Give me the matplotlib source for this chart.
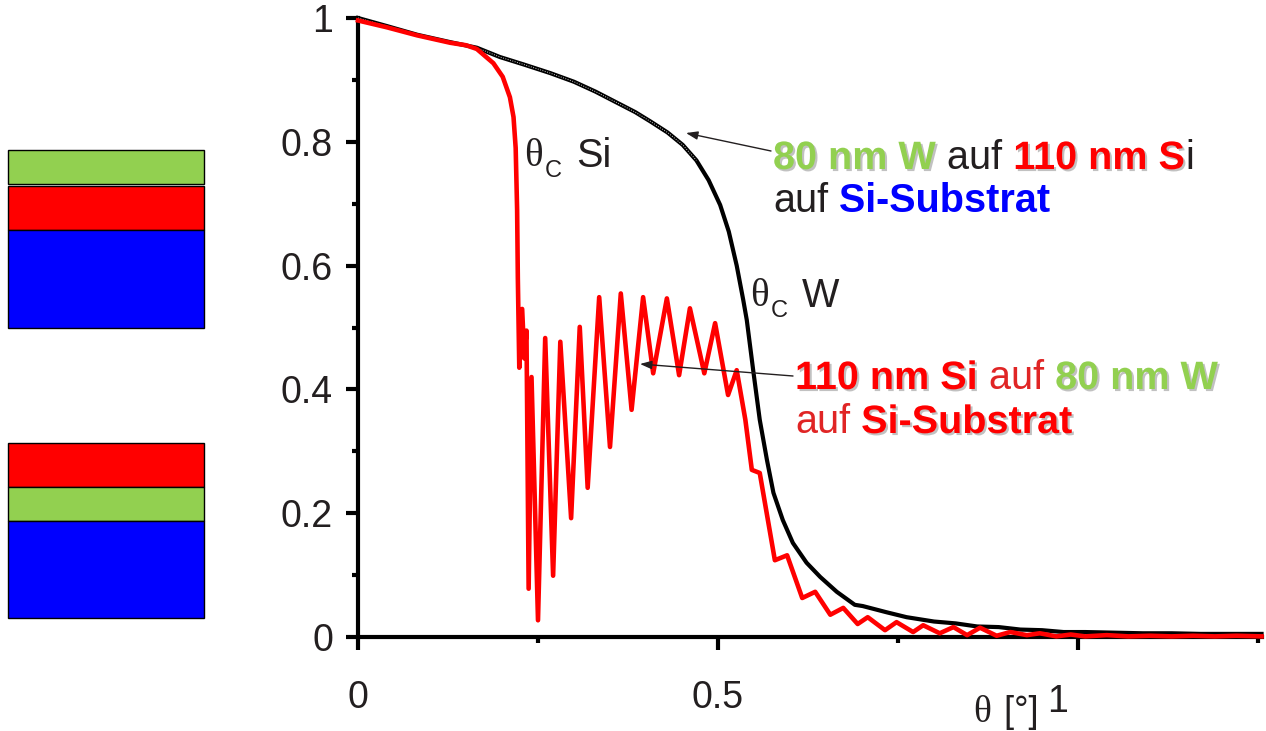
import matplotlib.pyplot as plt
import matplotlib.patheffects as pe
from matplotlib.patches import Rectangle

plt.rcParams['font.family'] = ['Liberation Sans', 'DejaVu Sans']

# Reflektivitaet: 80 nm W auf 110 nm Si auf Si-Substrat (schwarz)
theta_w = [0.000, 0.040, 0.082, 0.128, 0.165, 0.197, 0.230, 0.267, 0.300, 0.330,
           0.360, 0.385, 0.406, 0.430, 0.451, 0.470, 0.487, 0.503, 0.515, 0.526,
           0.535, 0.540, 0.549, 0.558, 0.568, 0.577, 0.590, 0.604, 0.623, 0.642,
           0.665, 0.690, 0.701, 0.734, 0.762, 0.800, 0.830, 0.860, 0.890, 0.920,
           0.950, 0.980, 1.010, 1.050, 1.090, 1.130, 1.170, 1.210, 1.255]
refl_w = [1.000, 0.987, 0.973, 0.961, 0.952, 0.937, 0.925, 0.911, 0.897, 0.881,
          0.863, 0.848, 0.833, 0.815, 0.795, 0.770, 0.738, 0.698, 0.655, 0.600,
          0.545, 0.512, 0.430, 0.351, 0.286, 0.233, 0.189, 0.152, 0.120, 0.097,
          0.073, 0.052, 0.050, 0.040, 0.032, 0.025, 0.022, 0.017, 0.016, 0.012,
          0.011, 0.008, 0.008, 0.007, 0.006, 0.006, 0.005, 0.005, 0.005]

# Reflektivitaet: 110 nm Si auf 80 nm W auf Si-Substrat (rot)
theta_si = [0.000, 0.040, 0.082, 0.128, 0.150, 0.165, 0.188, 0.201, 0.211, 0.216,
            0.219, 0.221, 0.222, 0.224, 0.228, 0.231, 0.234, 0.237, 0.241, 0.250,
            0.260, 0.271, 0.281, 0.296, 0.308, 0.319, 0.335, 0.350, 0.365, 0.380,
            0.396, 0.410, 0.429, 0.446, 0.461, 0.481, 0.496, 0.514, 0.526, 0.538,
            0.547, 0.558, 0.579, 0.596, 0.617, 0.635, 0.656, 0.674, 0.694, 0.708,
            0.732, 0.748, 0.771, 0.785, 0.808, 0.827, 0.846, 0.864, 0.887, 0.906,
            0.929, 0.947, 0.970, 0.990, 1.010, 1.040, 1.070, 1.100, 1.130, 1.160,
            1.190, 1.220, 1.255]
refl_si = [0.996, 0.985, 0.972, 0.960, 0.956, 0.950, 0.927, 0.905, 0.872, 0.840,
           0.790, 0.690, 0.580, 0.435, 0.530, 0.450, 0.495, 0.078, 0.420, 0.027,
           0.483, 0.099, 0.477, 0.192, 0.501, 0.241, 0.549, 0.307, 0.555, 0.367,
           0.549, 0.426, 0.547, 0.423, 0.531, 0.426, 0.507, 0.391, 0.431, 0.351,
           0.270, 0.265, 0.124, 0.132, 0.063, 0.073, 0.036, 0.047, 0.021, 0.032,
           0.011, 0.024, 0.008, 0.019, 0.006, 0.016, 0.003, 0.015, 0.002, 0.008,
           0.003, 0.006, 0.001, 0.004, 0.001, 0.003, 0.001, 0.002, 0.001, 0.002,
           0.001, 0.002, 0.001]

xticks = [0, 0.5, 1]
xtick_labels = ['0', '0.5', '']
xticks_minor = [0.25, 0.75, 1.25]
yticks = [0, 0.2, 0.4, 0.6, 0.8, 1]
ytick_labels = ['0', '0.2', '0.4', '0.6', '0.8', '1']
yticks_minor = [0.1, 0.3, 0.5, 0.7, 0.9]

# Schichtfolgen von oben nach unten
stack_top = ['#92d050', '#ff0000', '#0000ff']
stack_bottom = ['#ff0000', '#92d050', '#0000ff']

green = '#92d050'
red = '#ff0000'
blue = '#0000ff'
ink = '#231f20'

W, H = 1266, 731
fig = plt.figure(figsize=(W / 100, H / 100), dpi=100)

# Hauptdiagramm (Pixelkanten aus dem Bild)
ax = fig.add_axes([358 / W, 1 - 637 / H, (1262 - 358) / W, (637 - 18) / H])
ax.plot(theta_w, refl_w, color='black', lw=3.0, clip_on=False, zorder=3)
ax.plot(theta_w[:16], refl_w[:16], color='white', lw=0.7, ls=(0, (1, 1.5)),
        alpha=0.8, clip_on=False, zorder=3)
ax.plot(theta_si, refl_si, color=red, lw=3.3, clip_on=False, zorder=4)

ax.set_xlim(0, 1.2556)
ax.set_ylim(0, 1)
ax.set_xticks(xticks, xtick_labels)
ax.set_xticks(xticks_minor, minor=True)
ax.set_yticks(yticks, ytick_labels)
ax.set_yticks(yticks_minor, minor=True)
for s in ['top', 'right']:
    ax.spines[s].set_visible(False)
for s in ['left', 'bottom']:
    ax.spines[s].set_linewidth(3)
ax.tick_params(which='major', length=9, width=3, labelsize=27, labelcolor=ink)
ax.tick_params(which='minor', length=4.5, width=3)
ax.tick_params(axis='y', pad=9)
ax.tick_params(axis='x', pad=22)

# Overlay in Pixelkoordinaten fuer Schichten und Beschriftungen
ov = fig.add_axes([0, 0, 1, 1], facecolor='none')
ov.set_xlim(0, W)
ov.set_ylim(H, 0)
ov.axis('off')

bands_top = [(150, 184), (186, 230), (230, 328)]
bands_bottom = [(443, 487), (487, 521), (521, 618)]
for colors, bands in [(stack_top, bands_top), (stack_bottom, bands_bottom)]:
    for c, (y0, y1) in zip(colors, bands):
        ov.add_patch(Rectangle((8, y0), 196, y1 - y0, facecolor=c,
                               edgecolor='black', lw=1))

shadow = [pe.withSimplePatchShadow(offset=(1.5, -1.5), shadow_rgbFace='#777777',
                                   alpha=0.45)]


def rich_text(x, y, pieces, size=28.5):
    t = None
    for s, color, bold, shade in pieces:
        kw = dict(color=color, fontsize=size,
                  fontweight='bold' if bold else 'normal')
        if shade:
            kw['path_effects'] = shadow
        if t is None:
            t = ov.text(x, y, s, ha='left', va='baseline', **kw)
        else:
            t = ov.annotate(s, xy=(1, 0), xycoords=t, ha='left', va='bottom', **kw)


rich_text(773, 169, [('80 nm W', green, True, True), (' auf', ink, False, False),
                     (' 110 nm S', red, True, True), ('i', ink, False, False)])
rich_text(773, 212, [('auf', ink, False, False), (' Si-Substrat', blue, True, False)])
rich_text(795, 389, [('110 nm Si', red, True, True), (' auf', '#e02525', False, False),
                     (' 80 nm W', green, True, True)])
rich_text(795, 433, [('auf', '#e02525', False, False), (' Si-Substrat', red, True, True)])

arrow = dict(arrowstyle='-|>,head_length=0.7,head_width=0.25', color=ink, lw=1,
             shrinkA=0, shrinkB=0)
ov.annotate('', xy=(686, 133), xytext=(771, 151), arrowprops=arrow)
ov.annotate('', xy=(640, 364), xytext=(793, 376), arrowprops=arrow)

# kritische Winkel
for x0, y0, label in [(524, 166, 'Si'), (750, 306, 'W')]:
    ov.text(x0, y0, 'θ', fontsize=28, family='Liberation Serif', color=ink,
            va='baseline')
    ov.text(x0 + 21, y0 + 11, 'C', fontsize=17, color=ink, va='baseline')
    ov.text(x0 + 52, y0 + 1, label, fontsize=28.5, color=ink, va='baseline')

# Achsenbeschriftung
ov.text(973, 722, 'θ', fontsize=27, family='Liberation Serif', color=ink,
        va='baseline')
ov.text(994, 722, ' [°]', fontsize=26, color=ink, va='baseline')
ov.text(1047, 712, '1', fontsize=27, color=ink, va='baseline')

fig.savefig('out.png', dpi=100)
